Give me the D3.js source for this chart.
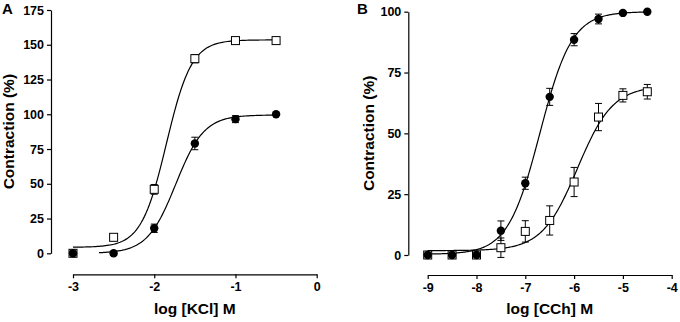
<!DOCTYPE html>
<html>
<head>
<meta charset="utf-8">
<script src="https://cdn.jsdelivr.net/npm/d3@7"></script>
<style>
  body { margin: 0; background: #fff; }
  svg text { font-family: "Liberation Sans", Arial, sans-serif; font-weight: bold; fill: #000; }
</style>
</head>
<body>
<div id="chart"></div>
<script>
// panel A: KCl
var kclDose = [-3, -2.5, -2, -1.5, -1, -0.5];
var kclOpen = [0, 11.5, 46, 140, 153, 153];
var kclOpenErr = [0, 0, 3.5, 3, 1, 0];
var kclFilled = [0, 0, 18, 79, 96.5, 100];
var kclFilledErr = [0, 0, 3, 4.5, 2.5, 0];
// fit: bottom, top, logEC50, hill, from, to
var kclOpenFit = [4.3, 153.5, -1.85, 2.8, -3, -0.5];
var kclFilledFit = [0, 99.5, -1.735, 2.49, -2.68, -0.5];
var kclXTicks = [-3, -2, -1, 0];
var kclYTicks = [0, 25, 50, 75, 100, 125, 150, 175];

// panel B: CCh
var cchDose = [-9, -8.5, -8, -7.5, -7, -6.5, -6, -5.5, -5, -4.5];
var cchFilled = [0, 0, 0, 10, 29.5, 65, 88.5, 97, 99.5, 100];
var cchFilledErr = [0, 0, 0, 4, 2.5, 3.5, 2.5, 2, 0.5, 0];
var cchOpen = [0, 0, 0, 3, 9.7, 14.2, 30, 56.7, 65.6, 67.1];
var cchOpenErr = [0, 0, 0, 4, 4.4, 6, 6, 5.6, 2.7, 3];
var cchFilledFit = [0.3, 100, -6.70, 1.32, -9, -4.5];
var cchOpenFit = [1.8, 69.5, -5.93, 1.2, -9, -4.5];
var cchXTicks = [-9, -8, -7, -6, -5, -4];
var cchYTicks = [0, 25, 50, 75, 100];

var svg = d3.select('#chart').append('svg')
    .attr('width', 680)
    .attr('height', 322);

function hill(p, x) {
    return p[0] + (p[1] - p[0]) / (1 + Math.pow(10, (p[2] - x) * p[3]));
}

// plain hyphen minus, no decimals
var fmt = function (d) { return String(d); };

function drawPanel(cfg) {
    var g = svg.append('g');
    var x = d3.scaleLinear().domain(cfg.xDomain).range(cfg.xRange);
    var y = d3.scaleLinear().domain(cfg.yDomain).range(cfg.yRange);

    var yAxis = g.append('g')
        .attr('transform', 'translate(' + cfg.yAxisX + ',0)')
        .call(d3.axisLeft(y).tickValues(cfg.yTicks).tickFormat(fmt).tickSize(4).tickSizeOuter(0).tickPadding(3));
    var xAxis = g.append('g')
        .attr('transform', 'translate(0,' + cfg.xAxisY + ')')
        .call(d3.axisBottom(x).tickValues(cfg.xTicks).tickFormat(fmt).tickSize(4).tickSizeOuter(0).tickPadding(4));

    [yAxis, xAxis].forEach(function (a) {
        a.selectAll('path, line').attr('stroke', '#000').attr('stroke-width', 1.2);
        a.selectAll('text').style('font-size', '12.5px').attr('fill', '#000');
    });

    g.append('text')
        .attr('x', d3.mean(cfg.xRange))
        .attr('y', 314)
        .attr('text-anchor', 'middle')
        .style('font-size', '15.5px')
        .text(cfg.xTitle);

    g.append('text')
        .attr('transform', 'translate(' + cfg.yTitleX + ',' + d3.mean(cfg.yRange) + ') rotate(-90)')
        .attr('text-anchor', 'middle')
        .style('font-size', '15.5px')
        .text('Contraction (%)');

    g.append('text')
        .attr('x', cfg.letterX)
        .attr('y', 14)
        .style('font-size', '15px')
        .text(cfg.letter);

    var line = d3.line()
        .x(function (d) { return x(d); });

    cfg.series.forEach(function (s) {
        var p = s.fit;
        var pts = d3.range(p[4], p[5] + 0.001, 0.02);
        line.y(function (d) { return y(hill(p, d)); });
        g.append('path')
            .datum(pts)
            .attr('d', line)
            .attr('fill', 'none')
            .attr('stroke', '#000')
            .attr('stroke-width', 1.2);
    });

    cfg.series.forEach(function (s) {
        cfg.dose.forEach(function (d, i) {
            var e = s.err[i];
            if (!e) return;
            var cx = x(d), y1 = y(s.values[i] + e), y2 = y(s.values[i] - e);
            g.append('line').attr('x1', cx).attr('x2', cx).attr('y1', y1).attr('y2', y2)
                .attr('stroke', '#000').attr('stroke-width', 1);
            [y1, y2].forEach(function (yy) {
                g.append('line').attr('x1', cx - 3.5).attr('x2', cx + 3.5).attr('y1', yy).attr('y2', yy)
                    .attr('stroke', '#000').attr('stroke-width', 1);
            });
        });
    });

    cfg.series.forEach(function (s) {
        if (s.shape === 'square') {
            g.selectAll(null).data(cfg.dose).enter().append('rect')
                .attr('x', function (d) { return x(d) - 4; })
                .attr('y', function (d, i) { return y(s.values[i]) - 4; })
                .attr('width', 8).attr('height', 8)
                .attr('fill', '#fff').attr('stroke', '#000').attr('stroke-width', 1);
        } else {
            g.selectAll(null).data(cfg.dose).enter().append('circle')
                .attr('cx', function (d) { return x(d); })
                .attr('cy', function (d, i) { return y(s.values[i]); })
                .attr('r', 4.2)
                .attr('fill', '#000');
        }
    });
}

drawPanel({
    letter: 'A', letterX: 2,
    xDomain: [-3, 0], xRange: [73, 316.7],
    yDomain: [0, 175], yRange: [253.3, 10],
    yAxisX: 51, xAxisY: 274.3, yTitleX: 14,
    xTicks: kclXTicks, yTicks: kclYTicks,
    xTitle: 'log [KCl] M',
    dose: kclDose,
    series: [
        { values: kclOpen, err: kclOpenErr, fit: kclOpenFit, shape: 'square' },
        { values: kclFilled, err: kclFilledErr, fit: kclFilledFit, shape: 'circle' }
    ]
});

drawPanel({
    letter: 'B', letterX: 357,
    xDomain: [-9, -4], xRange: [427.7, 671.7],
    yDomain: [0, 100], yRange: [255, 11.7],
    yAxisX: 408.3, xAxisY: 275, yTitleX: 374,
    xTicks: cchXTicks, yTicks: cchYTicks,
    xTitle: 'log [CCh] M',
    dose: cchDose,
    series: [
        { values: cchOpen, err: cchOpenErr, fit: cchOpenFit, shape: 'square' },
        { values: cchFilled, err: cchFilledErr, fit: cchFilledFit, shape: 'circle' }
    ]
});
</script>
</body>
</html>
